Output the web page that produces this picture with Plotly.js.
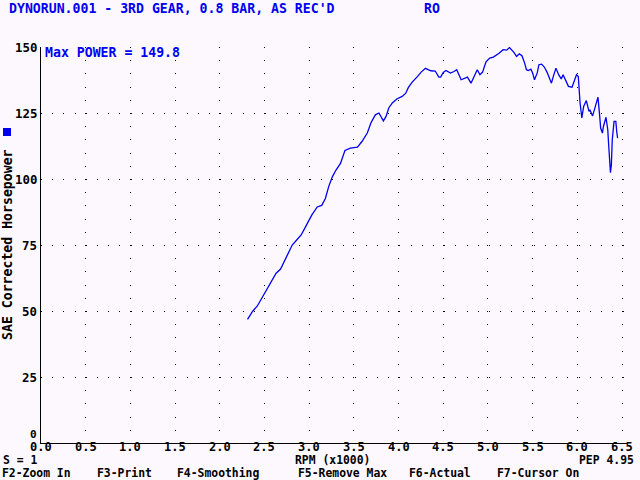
<!DOCTYPE html>
<html>
<head>
<meta charset="utf-8">
<script src="https://cdn.plot.ly/plotly-3.0.1.min.js"></script>
<style>html,body{margin:0;padding:0;background:#fdf8fd;}</style>
</head>
<body>
<div id="chart" style="width:640px;height:480px;"></div>
<script>
// RPM (x1000)
const rpm = [2.31,2.37,2.42,2.47,2.53,2.58,2.63,2.68,2.72,2.77,2.81,2.86,2.91,2.95,3.00,3.03,3.09,3.14,3.18,3.22,3.26,3.30,3.35,3.40,3.46,3.54,3.59,3.65,3.69,3.74,3.78,3.80,3.83,3.86,3.89,3.93,3.98,4.04,4.08,4.11,4.15,4.21,4.25,4.30,4.36,4.41,4.45,4.47,4.50,4.53,4.58,4.62,4.65,4.70,4.75,4.77,4.81,4.85,4.88,4.91,4.94,4.96,4.98,5.02,5.06,5.12,5.17,5.21,5.24,5.29,5.32,5.35,5.38,5.41,5.43,5.45,5.48,5.50,5.52,5.55,5.57,5.60,5.63,5.66,5.71,5.73,5.76,5.79,5.82,5.84,5.87,5.90,5.94,5.96,5.99,6.01,6.02,6.03,6.05,6.07,6.10,6.13,6.14,6.17,6.19,6.21,6.23,6.25,6.26,6.28,6.29,6.32,6.34,6.35,6.36,6.37,6.38,6.39,6.41,6.43,6.44,6.45];
// SAE corrected horsepower
const hp = [46.8,50.0,51.9,54.8,58.6,61.5,64.3,65.9,68.7,71.8,75.0,76.9,78.8,81.3,84.5,86.4,89.4,90.0,92.5,97.3,100.9,103.4,105.9,110.8,111.7,112.1,114.2,117.4,121.2,124.3,125.0,123.9,122.0,123.7,126.9,128.8,130.3,131.3,132.5,134.7,136.6,138.8,140.4,141.9,141.0,140.9,138.6,138.6,140.4,141.1,140.1,140.7,141.4,137.6,138.2,138.6,136.3,139.2,141.4,139.5,140.5,142.6,144.5,145.8,146.2,147.5,149.0,148.8,149.8,148.0,146.4,147.4,146.7,143.9,141.4,141.1,141.6,140.1,137.6,140.1,143.3,143.5,142.4,140.5,136.3,138.8,142.0,139.5,137.9,139.5,137.6,135.1,134.8,136.6,139.5,138.8,132.5,128.8,123.1,127.5,129.7,125.6,126.2,123.9,126.2,128.8,131.0,123.7,119.3,117.4,119.7,123.4,118.6,112.9,105.3,102.4,105.3,114.8,121.8,121.8,118.0,115.5];

const xTicks = [0,0.5,1,1.5,2,2.5,3,3.5,4,4.5,5,5.5,6,6.5];
const yTicks = [0,25,50,75,100,125,150];
const titleText = "DYNORUN.001 - 3RD GEAR, 0.8 BAR, AS REC'D";
const operatorText = "RO";
const yTitle = "SAE Corrected Horsepower";
const xTitle = "RPM (x1000)";
const smoothText = "S = 1";
const pepText = "PEP 4.95";
const keyLabels = ["F2-Zoom In","F3-Print","F4-Smoothing","F5-Remove Max","F6-Actual","F7-Cursor On"];
const keyX = [0,95,175,296,407,495];

const W = 640, H = 480;
const M = {l:41, r:13, t:47, b:37};
const pw = W - M.l - M.r, ph = H - M.t - M.b;
const PX = v => (v - M.l) / pw;
const PY = v => 1 - (v - M.t) / ph;

const FONT = "DejaVu Sans Mono";
const BLUE = "#0000f0";
const fnt = (c, s) => ({family: FONT, size: s || 13.2, color: c, weight: "bold"});
const SMALL = 11.4;

const maxPower = Math.max(...hp);

const ann = [];
const add = (text, x, y, xanchor, color, size, extra) => ann.push(Object.assign({
  text: text, xref: "paper", yref: "paper", x: PX(x), y: PY(y),
  xanchor: xanchor, yanchor: "middle", showarrow: false, font: fnt(color, size)
}, extra || {}));

add(titleText, 7, 8, "left", BLUE);
add(operatorText, 422, 8, "left", BLUE);
add("Max POWER = " + maxPower.toFixed(1), 43, 53, "left", BLUE);
add(yTitle, 7, 245, "center", "#000", 13.2, {textangle: -90});
add(smoothText, 1, 460.3, "left", "#000", SMALL);
add(xTitle, 332, 460.3, "center", "#000", SMALL);
add(pepText, 636, 460.3, "right", "#000", SMALL);
keyLabels.forEach((k, i) => add(k, keyX[i], 473, "left", "#000", SMALL));
// x tick labels on the x scale, just under the axis line
xTicks.forEach(v => ann.push({
  text: v.toFixed(1), xref: "x", yref: "paper", x: v, y: PY(447),
  xanchor: "center", yanchor: "middle", showarrow: false, font: fnt("#000", 12)
}));
// y tick labels on the y scale, left of the axis
yTicks.forEach(v => ann.push({
  text: String(v), xref: "paper", yref: "y", x: PX(38.5), y: v, yshift: v === 0 ? 9 : 0,
  xanchor: "right", yanchor: "middle", showarrow: false, font: fnt("#000", v === 0 ? 11 : 12.4)
}));

const layout = {
  width: W, height: H,
  margin: M,
  paper_bgcolor: "#fdf8fd",
  plot_bgcolor: "#fdf8fd",
  showlegend: false,
  xaxis: {
    range: [0, 6.555], tickvals: xTicks, showticklabels: false,
    showgrid: true, gridcolor: "#000", gridwidth: 1, griddash: "1px,12.2px",
    zeroline: false, showline: true, linecolor: "#000", linewidth: 1,
    ticks: "", fixedrange: true
  },
  yaxis: {
    range: [0, 150], tickvals: yTicks, showticklabels: false,
    showgrid: true, gridcolor: "#000", gridwidth: 1, griddash: "1px,10.2px",
    zeroline: false, showline: true, linecolor: "#000", linewidth: 1,
    ticks: "", fixedrange: true
  },
  annotations: ann,
  shapes: [{
    type: "rect", xref: "paper", yref: "paper",
    x0: PX(3), x1: PX(11), y0: PY(136), y1: PY(128),
    fillcolor: BLUE, line: {width: 0}
  }]
};

const trace = {
  x: rpm, y: hp, type: "scatter", mode: "lines",
  line: {color: BLUE, width: 1.3}, hoverinfo: "skip"
};

Plotly.newPlot("chart", [trace], layout, {staticPlot: true, displayModeBar: false});
</script>
</body>
</html>
